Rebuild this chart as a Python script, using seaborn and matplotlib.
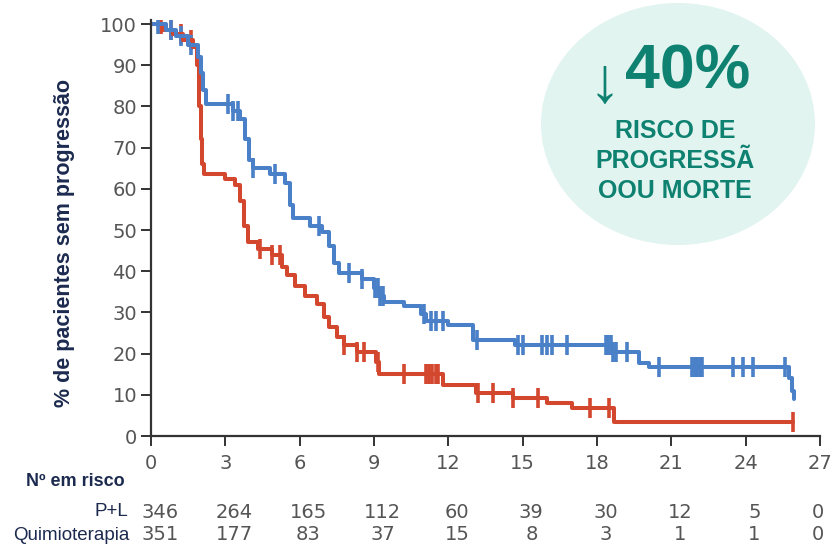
import numpy as np
import pandas as pd
import matplotlib
matplotlib.use("Agg")
import matplotlib.pyplot as plt
from matplotlib.patches import Ellipse
from matplotlib.transforms import blended_transform_factory
import seaborn as sns

# Kaplan-Meier step points (months, % free of progression)
pl_time = [0, 0.6, 1.0, 1.5, 1.9, 2.0, 2.1, 2.2, 3.3, 3.6, 3.8, 3.95, 4.1, 4.8, 5.4,
           5.6, 5.75, 6.4, 6.9, 7.2, 7.4, 7.6, 8.5, 9.0, 9.2, 9.4, 10.2, 10.9, 11.1,
           12.0, 13.0, 14.7, 18.6, 19.7, 20.1, 25.75, 25.85, 25.95]
pl_surv = [100, 98.5, 97, 95, 92, 88, 84, 80.5, 79, 77, 72, 67, 65, 63.5, 61.5,
           56, 53, 51, 49.5, 46, 42, 39.5, 38, 36, 34, 32.5, 31.5, 29.5, 28,
           27, 23.2, 22, 20.5, 17.8, 16.8, 14, 11, 9]

qt_time = [0, 0.5, 0.9, 1.3, 1.7, 1.85, 1.95, 2.0, 2.05, 2.15, 3.0, 3.4, 3.6, 3.75,
           3.9, 4.3, 4.9, 5.3, 5.5, 5.8, 6.2, 6.7, 7.0, 7.2, 7.5, 7.8, 8.3, 9.1, 9.2,
           11.8, 13.1, 14.6, 16.0, 17.0, 18.7, 25.9]
qt_surv = [100, 98.5, 97.5, 96, 94.5, 90, 80, 72, 66, 63.5, 62.5, 61, 57, 51,
           47, 45.5, 44, 41, 39, 36.5, 34, 32, 29, 26.5, 24, 22, 20.5, 18, 15,
           12.5, 10.5, 9.2, 8, 6.8, 3.4, 3.4]

# Censored observations (months)
pl_censor = [0.3, 0.8, 1.2, 1.6, 3.1, 3.3, 3.5, 4.1, 5.0, 6.8, 8.0, 8.5, 9.05, 9.15,
             9.25, 9.35, 11.0, 11.3, 11.5, 11.8, 13.15, 14.8, 15.0, 15.8, 16.0, 16.2,
             16.8, 18.35, 18.45, 18.55, 18.65, 18.75, 19.2, 20.5, 21.85, 21.95,
             22.05, 22.15, 22.25, 23.5, 23.9, 24.3, 25.6]
qt_censor = [0.4, 0.8, 1.2, 1.6, 4.4, 4.9, 5.2, 7.8, 8.3, 8.6, 9.15, 10.2, 11.1, 11.2,
             11.35, 11.5, 11.6, 13.2, 13.8, 14.6, 15.6, 17.7, 18.5, 25.9]

groups = ["P+L", "Quimioterapia"]
months = [0, 3, 6, 9, 12, 15, 18, 21, 24, 27]
at_risk_pl = [346, 264, 165, 112, 60, 39, 30, 12, 5, 0]
at_risk_qt = [351, 177, 83, 37, 15, 8, 3, 1, 1, 0]
y_ticks = [0, 10, 20, 30, 40, 50, 60, 70, 80, 90, 100]

BLUE = "#4a80c8"
RED = "#d4472f"
NAVY = "#1b2a4e"
TEAL = "#0e8171"
GREY = "#555555"

sns.set_theme(style="white")
plt.rcParams["font.family"] = ["DejaVu Sans"]


def step_value(times, surv, t):
    idx = np.searchsorted(times, t, side="right") - 1
    return surv[max(idx, 0)]


curves = pd.concat([
    pd.DataFrame({"tempo": pl_time, "sobrevida": pl_surv, "grupo": groups[0]}),
    pd.DataFrame({"tempo": qt_time, "sobrevida": qt_surv, "grupo": groups[1]}),
], ignore_index=True)

censors = pd.concat([
    pd.DataFrame({"tempo": pl_censor,
                  "sobrevida": [step_value(pl_time, pl_surv, t) for t in pl_censor],
                  "grupo": groups[0]}),
    pd.DataFrame({"tempo": qt_censor,
                  "sobrevida": [step_value(qt_time, qt_surv, t) for t in qt_censor],
                  "grupo": groups[1]}),
], ignore_index=True)

palette = {groups[0]: BLUE, groups[1]: RED}

fig = plt.figure(figsize=(8.33, 5.49), dpi=100)
ax = fig.add_axes([151 / 833, 1 - 436 / 549, (820 - 151) / 833, (436 - 19.9) / 549])

# Draw the chemo curve first so the P+L curve sits on top
for g in [groups[1], groups[0]]:
    sub = curves[curves["grupo"] == g]
    sns.lineplot(data=sub, x="tempo", y="sobrevida", color=palette[g], ax=ax,
                 drawstyle="steps-post", estimator=None, sort=False,
                 linewidth=2.9, legend=False)
    csub = censors[censors["grupo"] == g]
    sns.scatterplot(data=csub, x="tempo", y="sobrevida", color=palette[g], ax=ax,
                    marker="|", s=220, linewidth=2.6, legend=False)

ax.set_xlim(0, 27)
ax.set_ylim(0, 101)
ax.set_xticks(months)
ax.set_yticks(y_ticks)
ax.set_xlabel("")
ax.set_ylabel("")
for side in ["top", "right"]:
    ax.spines[side].set_visible(False)
for side in ["left", "bottom"]:
    ax.spines[side].set_color("#333333")
    ax.spines[side].set_linewidth(1.6)
ax.tick_params(axis="both", direction="out", length=7, width=1.4, color="#333333",
               labelsize=14, labelcolor=GREY, left=True, bottom=True)
ax.tick_params(axis="x", pad=6)
ax.tick_params(axis="y", pad=3)

# Y-axis title
fig.text(65 / 833, 1 - 243 / 549, "% de pacientes sem progressão", rotation=90,
         ha="center", va="center", fontsize=15.5, fontweight="bold", color=NAVY,
         family=["Liberation Sans", "DejaVu Sans"])

# Number-at-risk table
tr = blended_transform_factory(ax.transData, fig.transFigure)
label_font = ["Liberation Sans Narrow", "Liberation Sans", "DejaVu Sans"]
fig.text(125 / 833, 1 - 482 / 549, "Nº em risco", ha="right", va="center",
         fontsize=13, fontweight="bold", color=NAVY, family=label_font)
fig.text(128 / 833, 1 - 512 / 549, groups[0], ha="right", va="center",
         fontsize=13.5, color=NAVY, family=label_font)
fig.text(130 / 833, 1 - 535 / 549, groups[1], ha="right", va="center",
         fontsize=13.5, color=NAVY, family=label_font)
for m, a, b in zip(months, at_risk_pl, at_risk_qt):
    xo = m + (0.35 if m < 27 else -0.1)
    ax.text(xo, 1 - 512 / 549, str(a), transform=tr, ha="center", va="center",
            fontsize=14, color=GREY)
    ax.text(xo, 1 - 535 / 549, str(b), transform=tr, ha="center", va="center",
            fontsize=14, color=GREY)

# Hazard-reduction badge
badge = Ellipse((678 / 833, 1 - 124 / 549), 274 / 833, 242 / 549,
                transform=fig.transFigure, facecolor="#e1f4f0", edgecolor="none",
                zorder=0)
fig.patches.append(badge)
sans = ["Liberation Sans", "DejaVu Sans"]
fig.text(621 / 833, 1 - 84 / 549, "↓", ha="right", va="center", fontsize=46,
         color=TEAL, family=["Liberation Sans", "DejaVu Sans"])
fig.text(625 / 833, 1 - 72 / 549, "40%", ha="left", va="center", fontsize=45,
         fontweight="bold", color=TEAL, family=sans)
for txt, yc in [("RISCO DE", 131), ("PROGRESSÃ", 161), ("OOU MORTE", 191)]:
    fig.text(675 / 833, 1 - yc / 549, txt, ha="center", va="center", fontsize=18,
             fontweight="bold", color=TEAL, family=sans)

fig.savefig("out.png", dpi=100)
